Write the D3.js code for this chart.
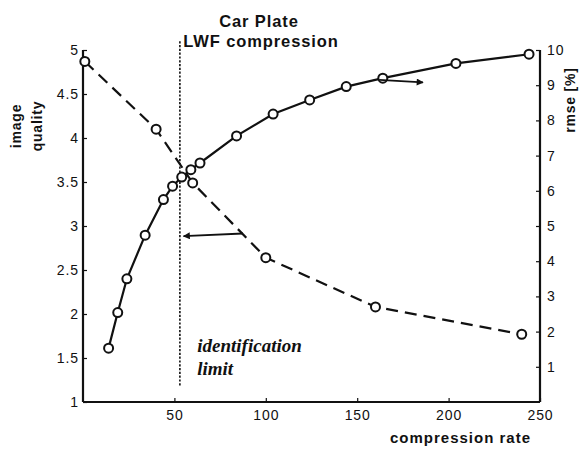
<!DOCTYPE html>
<html>
<head>
<meta charset="utf-8">
<script src="https://cdn.jsdelivr.net/npm/d3@7/dist/d3.min.js"></script>
<style>
  html, body { margin: 0; padding: 0; background: #fff; }
  svg { display: block; }
  text { fill: #111; }
</style>
</head>
<body>
<svg id="chart" width="583" height="449"></svg>
<script>
// ---- data ----
const title = ["Car Plate", "LWF compression"];
const xLabel = "compression rate";
const yLeftLabel = ["image", "quality"];
const yRightLabel = "rmse [%]";

// rmse [%] (solid, right axis)
const rmseRate = [14, 19, 24, 34, 44, 49, 54, 59, 64, 84, 104, 124, 144, 164, 204, 244];
const rmseValue = [1.53, 2.54, 3.5, 4.74, 5.75, 6.13, 6.39, 6.6, 6.79, 7.56, 8.18, 8.58, 8.96, 9.2, 9.62, 9.88];

// image quality (dashed, left axis)
const qualityRate = [1, 40, 60, 100, 160, 240];
const qualityValue = [4.87, 4.1, 3.49, 2.64, 2.08, 1.77];

const identificationLimit = 53;

const xTicks = [50, 100, 150, 200, 250];
const yLeftTicks = [1, 1.5, 2, 2.5, 3, 3.5, 4, 4.5, 5];
const yRightTicks = [1, 2, 3, 4, 5, 6, 7, 8, 9, 10];

// ---- layout ----
const svg = d3.select("#chart");
const mLeft = 83, mRight = 540, mTop = 50, mBottom = 402;

const x = d3.scaleLinear().domain([0, 250]).range([mLeft, mRight]);
const yL = d3.scaleLinear().domain([1, 5]).range([mBottom, mTop]);
const yR = d3.scaleLinear().domain([0, 10]).range([mBottom, mTop]);

const defs = svg.append("defs");
defs.append("marker")
  .attr("id", "arrow")
  .attr("viewBox", "0 0 10 10")
  .attr("refX", 9).attr("refY", 5)
  .attr("markerWidth", 13).attr("markerHeight", 7)
  .attr("markerUnits", "userSpaceOnUse")
  .attr("orient", "auto")
  .append("path").attr("d", "M0,0 L10,5 L0,10 Z").attr("fill", "#111");

const font = "'Liberation Sans', Arial, sans-serif";

// axes
const axL = svg.append("g").attr("transform", `translate(${mLeft},0)`)
  .call(d3.axisLeft(yL).tickValues(yLeftTicks).tickSize(-4).tickPadding(4)
        .tickFormat(d => d3.format("")(d)));
const axR = svg.append("g").attr("transform", `translate(${mRight},0)`)
  .call(d3.axisRight(yR).tickValues(yRightTicks).tickSize(-4).tickPadding(7));
const axB = svg.append("g").attr("transform", `translate(0,${mBottom})`)
  .call(d3.axisBottom(x).tickValues(xTicks).tickSize(-4).tickPadding(8));

[axL, axR, axB].forEach(g => {
  g.select(".domain").attr("stroke", "#111").attr("stroke-width", 2.2);
  g.selectAll(".tick line").attr("stroke", "#111").attr("stroke-width", 1.2);
  g.selectAll(".tick text").attr("font-family", font).attr("font-size", 14)
    .attr("fill", "#111").attr("letter-spacing", 0.9);
});
axL.select(".domain").attr("d", `M0,${mBottom}V${mTop}`);
axR.select(".domain").attr("d", `M0,${mBottom}V${mTop}`);
axB.select(".domain").attr("d", `M${mLeft},0H${mRight}`);

// identification limit (dotted vertical)
svg.append("line")
  .attr("x1", x(identificationLimit)).attr("x2", x(identificationLimit))
  .attr("y1", yL(5.1)).attr("y2", yL(1.18))
  .attr("stroke", "#111").attr("stroke-width", 1.6)
  .attr("stroke-dasharray", "2.2,1.6");

// dashed quality curve
svg.append("path")
  .datum(qualityRate.map((r, i) => [r, qualityValue[i]]))
  .attr("fill", "none").attr("stroke", "#111").attr("stroke-width", 2.2)
  .attr("stroke-dasharray", "12,7")
  .attr("d", d3.line().x(d => x(d[0])).y(d => yL(d[1])));

// solid rmse curve
svg.append("path")
  .datum(rmseRate.map((r, i) => [r, rmseValue[i]]))
  .attr("fill", "none").attr("stroke", "#111").attr("stroke-width", 2.2)
  .attr("d", d3.line().x(d => x(d[0])).y(d => yR(d[1])));

// markers
svg.append("g").selectAll("circle")
  .data(qualityRate.map((r, i) => [r, qualityValue[i]]))
  .join("circle")
  .attr("cx", d => x(d[0])).attr("cy", d => yL(d[1])).attr("r", 4.5)
  .attr("fill", "#fff").attr("stroke", "#111").attr("stroke-width", 2);
svg.append("g").selectAll("circle")
  .data(rmseRate.map((r, i) => [r, rmseValue[i]]))
  .join("circle")
  .attr("cx", d => x(d[0])).attr("cy", d => yR(d[1])).attr("r", 4.5)
  .attr("fill", "#fff").attr("stroke", "#111").attr("stroke-width", 2);

// arrows
svg.append("line")
  .attr("x1", x(87.5)).attr("y1", yL(2.915))
  .attr("x2", x(55)).attr("y2", yL(2.885))
  .attr("stroke", "#111").attr("stroke-width", 1.8).attr("marker-end", "url(#arrow)");
svg.append("line")
  .attr("x1", x(162)).attr("y1", yR(9.15))
  .attr("x2", x(186)).attr("y2", yR(9.08))
  .attr("stroke", "#111").attr("stroke-width", 1.8).attr("marker-end", "url(#arrow)");

// annotation text
const ann = svg.append("text")
  .attr("font-family", "'Liberation Serif', 'Times New Roman', serif")
  .attr("font-style", "italic").attr("font-weight", "bold").attr("font-size", 19);
ann.append("tspan").attr("x", x(62.5)).attr("y", yL(1.57)).text("identification");
ann.append("tspan").attr("x", x(62.5)).attr("y", yL(1.31)).text("limit");

// titles
svg.append("text").attr("x", 259).attr("y", 27).attr("text-anchor", "middle")
  .attr("font-family", font).attr("font-weight", "bold").attr("font-size", 16.5)
  .attr("letter-spacing", 0.9).text(title[0]);
svg.append("text").attr("x", 261).attr("y", 47).attr("text-anchor", "middle")
  .attr("font-family", font).attr("font-weight", "bold").attr("font-size", 16.5)
  .attr("letter-spacing", 0.9).text(title[1]);

// x label
svg.append("text").attr("x", 531).attr("y", 443).attr("text-anchor", "end")
  .attr("font-family", font).attr("font-weight", "bold").attr("font-size", 15)
  .attr("letter-spacing", 1).text(xLabel);

// left y label
yLeftLabel.forEach((t, i) => {
  svg.append("text")
    .attr("transform", `translate(${20.5 + i * 21.5},126) rotate(-90)`)
    .attr("text-anchor", "middle")
    .attr("font-family", font).attr("font-weight", "bold").attr("font-size", 14)
    .attr("letter-spacing", 0.8).text(t);
});

// right y label
svg.append("text")
  .attr("transform", `translate(575,100) rotate(-90)`)
  .attr("text-anchor", "middle")
  .attr("font-family", font).attr("font-weight", "bold").attr("font-size", 14)
  .attr("letter-spacing", 0.8).text(yRightLabel);
</script>
</body>
</html>
